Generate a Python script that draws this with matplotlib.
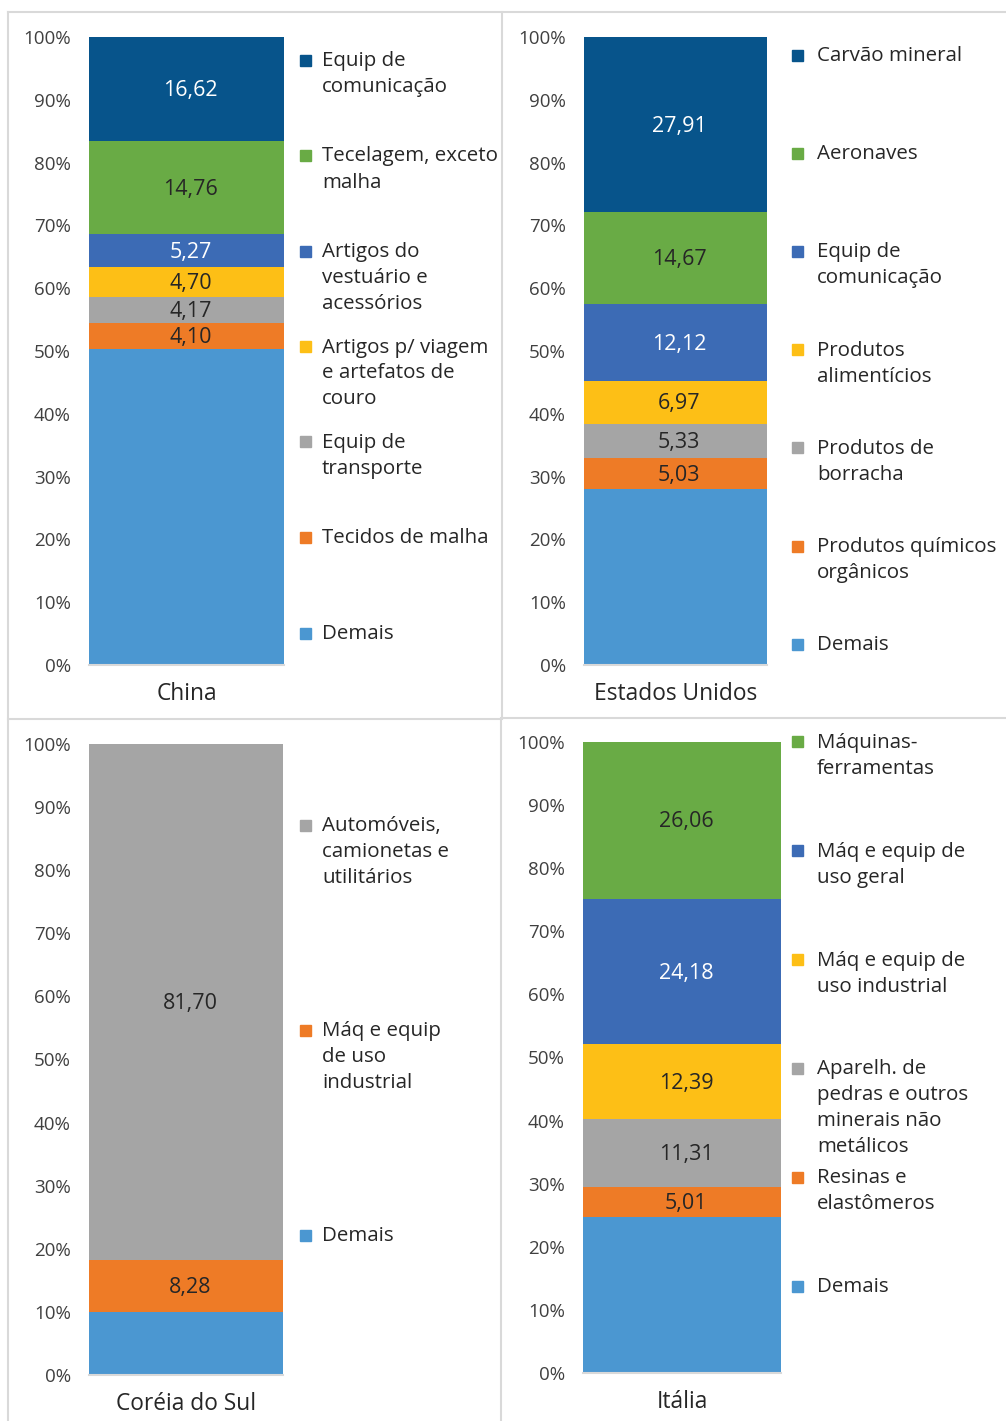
import numpy as np
import matplotlib.pyplot as plt
from matplotlib.lines import Line2D
from matplotlib.patches import Rectangle

plt.rcParams['font.family'] = ['Open Sans', 'DejaVu Sans']

# cores das séries
azul_esc = '#07548B'
verde = '#69AB45'
azul_med = '#3C6BB5'
amarelo = '#FDBF16'
cinza = '#A5A5A5'
laranja = '#EE7B26'
azul_cl = '#4B97D1'

# China (de cima para baixo)
china_cats = ['Equip de\ncomunicação', 'Tecelagem, exceto\nmalha',
              'Artigos do\nvestuário e\nacessórios',
              'Artigos p/ viagem\ne artefatos de\ncouro',
              'Equip de\ntransporte', 'Tecidos de malha', 'Demais']
china_vals = [16.62, 14.76, 5.27, 4.70, 4.17, 4.10, 50.38]
china_cores = [azul_esc, verde, azul_med, amarelo, cinza, laranja, azul_cl]

# Estados Unidos
eua_cats = ['Carvão mineral', 'Aeronaves', 'Equip de\ncomunicação',
            'Produtos\nalimentícios', 'Produtos de\nborracha',
            'Produtos químicos\norgânicos', 'Demais']
eua_vals = [27.91, 14.67, 12.12, 6.97, 5.33, 5.03, 27.97]
eua_cores = [azul_esc, verde, azul_med, amarelo, cinza, laranja, azul_cl]

# Coréia do Sul
cor_cats = ['Automóveis,\ncamionetas e\nutilitários',
            'Máq e equip\nde uso\nindustrial', 'Demais']
cor_vals = [81.70, 8.28, 10.02]
cor_cores = [cinza, laranja, azul_cl]

# Itália
ita_cats = ['Máquinas-\nferramentas', 'Máq e equip de\nuso geral',
            'Máq e equip de\nuso industrial',
            'Aparelh. de\npedras e outros\nminerais não\nmetálicos',
            'Resinas e\nelastômeros', 'Demais']
ita_vals = [26.06, 24.18, 12.39, 11.31, 5.01, 25.90]
ita_cores = [verde, azul_med, amarelo, cinza, laranja, azul_cl]

W, H = 1006, 1421
fig = plt.figure(figsize=(W / 100, H / 100), dpi=100)


def fx(px):
    return px / W


def fy(py):
    return 1 - py / H


def painel(nome, cats, vals, cores, bx0, bx1, y0, y100,
           leg_x, leg_y0, leg_step, txt_dx=16):
    ax = fig.add_axes([fx(bx0), fy(y0), fx(bx1) - fx(bx0), (y0 - y100) / H])
    vals = np.array(vals)
    pct = vals / vals.sum() * 100
    # empilha de baixo para cima (ordem inversa da legenda)
    base = 0
    for i in range(len(vals) - 1, -1, -1):
        ax.bar(0, pct[i], bottom=base, width=1.0, color=cores[i])
        if cats[i] != 'Demais':
            cor_txt = 'white' if cores[i] in (azul_esc, azul_med) else '#262626'
            ax.text(0.02, base + pct[i] / 2 - 0.25, f'{vals[i]:.2f}'.replace('.', ','),
                    ha='center', va='center', fontsize=15.5, color=cor_txt)
        base += pct[i]
    ax.set_xlim(-0.5, 0.5)
    ax.set_ylim(0, 100)
    ax.set_yticks(np.arange(0, 101, 10))
    ax.set_yticklabels([f'{v}%' for v in range(0, 101, 10)])
    ax.set_xticks([0])
    ax.set_xticklabels([nome])
    ax.tick_params(axis='y', length=0, pad=13, labelsize=13.5, labelcolor='#404040')
    ax.tick_params(axis='x', length=0, pad=12, labelsize=16.4, labelcolor='#262626')
    for s in ['top', 'left', 'right']:
        ax.spines[s].set_visible(False)
    ax.spines['bottom'].set_color('#D9D9D9')
    ax.spines['bottom'].set_linewidth(1.5)

    # legenda manual, entradas igualmente espaçadas
    for i, c in enumerate(cats):
        yc = leg_y0 + i * leg_step
        fig.patches.append(Rectangle((fx(leg_x - 6), fy(yc + 5.5)), 11 / W, 11 / H,
                                     transform=fig.transFigure, color=cores[i]))
        fig.text(fx(leg_x + txt_dx), fy(yc - 9), c, ha='left', va='top',
                 fontsize=14.75, color='#262626', linespacing=1.4)


painel('China', china_cats, china_vals, china_cores, 89, 284, 665, 37,
       306, 60, 95.5)
painel('Estados Unidos', eua_cats, eua_vals, eua_cores, 584, 767, 665, 37,
       798, 55, 98.2, txt_dx=19)
painel('Coréia do Sul', cor_cats, cor_vals, cor_cores, 89, 283, 1375, 744,
       306, 825, 205)
painel('Itália', ita_cats, ita_vals, ita_cores, 583, 781, 1373, 742,
       798, 742, 108.8, txt_dx=19)

# bordas dos quadros
borda = dict(color='#D9D9D9', linewidth=1.5, transform=fig.transFigure)
fig.lines.append(Line2D([fx(8), fx(1006)], [fy(12), fy(12)], **borda))
fig.lines.append(Line2D([fx(8), fx(8)], [fy(12), fy(1421)], **borda))
fig.lines.append(Line2D([fx(502), fx(502)], [fy(12), fy(718)], **borda))
fig.lines.append(Line2D([fx(501), fx(501)], [fy(718), fy(1421)], **borda))
fig.lines.append(Line2D([fx(8), fx(502)], [fy(719), fy(719)], **borda))
fig.lines.append(Line2D([fx(503), fx(1006)], [fy(718), fy(718)], **borda))

plt.savefig('out.png', dpi=100)
